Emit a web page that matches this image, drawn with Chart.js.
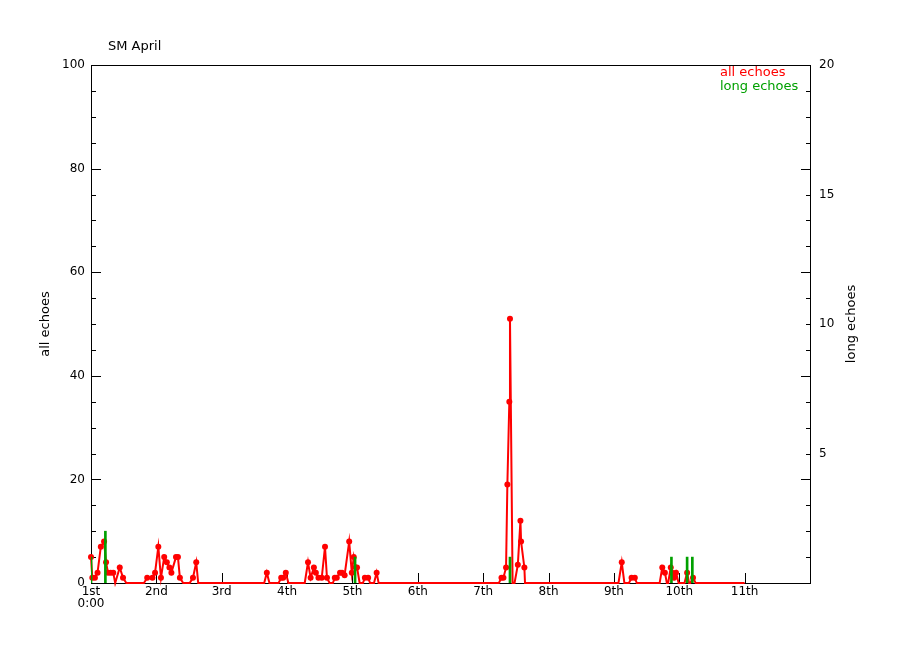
<!DOCTYPE html>
<html>
<head>
<meta charset="utf-8">
<script src="https://cdn.jsdelivr.net/npm/chart.js@4.4.1/dist/chart.umd.min.js"></script>
<style>
  body { margin: 0; background: #fff; }
  #wrap { width: 900px; height: 650px; }
</style>
</head>
<body>
<div id="wrap"><canvas id="myChart" width="900" height="650"></canvas></div>
<script>
// times are in days since the 1st, 0:00
const allTimes = [
  0.00, 0.02, 0.06, 0.10, 0.15, 0.20, 0.23, 0.26, 0.30, 0.34, 0.37, 0.44, 0.49, 0.54,
  0.81, 0.86, 0.94, 0.98, 1.03, 1.07, 1.12, 1.16, 1.20, 1.23, 1.30, 1.33, 1.36, 1.41, 1.51, 1.56, 1.61, 1.64,
  2.65, 2.69, 2.73, 2.87, 2.91, 2.94, 2.98, 3.02, 3.27, 3.32, 3.36, 3.41, 3.44, 3.48, 3.53, 3.58, 3.61, 3.65,
  3.70, 3.73, 3.76, 3.81, 3.84, 3.88, 3.95, 3.99, 4.02, 4.05, 4.07, 4.11, 4.16, 4.19, 4.24, 4.27, 4.33, 4.37, 4.40,
  6.24, 6.28, 6.31, 6.35, 6.37, 6.40, 6.41, 6.45, 6.48, 6.53, 6.57, 6.58, 6.63, 6.64,
  8.07, 8.12, 8.16, 8.23, 8.27, 8.32, 8.35, 8.70, 8.74, 8.78, 8.81, 8.83, 8.87, 8.89, 8.92, 8.95, 8.99,
  9.08, 9.12, 9.15, 9.17, 9.21, 9.25, 10.00
];
const allValues = [
  5, 1, 1, 2, 7, 8, 4, 2, 2, 2, 0, 3, 1, 0,
  0, 1, 1, 2, 7, 1, 5, 4, 3, 2, 5, 5, 1, 0, 0, 1, 4, 0,
  0, 2, 0, 0, 1, 1, 2, 0, 0, 4, 1, 3, 2, 1, 1, 7, 1, 0,
  0, 1, 1, 2, 2, 1.5, 8, 2, 5, 3, 3, 0, 0, 1, 1, 0, 0, 2, 0,
  0, 1, 1, 3, 19, 35, 51, 0, 0, 3.5, 12, 8, 3, 0,
  0, 4, 0, 0, 1, 1, 0, 0, 3, 2, 0, 0, 3, 2, 1, 2, 0,
  0, 2, 0, 0, 1, 0, 0
];
const longTimes = [0.00, 0.22, 4.04, 6.41, 8.88, 9.12, 9.20];
const longValues = [1, 2, 1, 1, 1, 1, 1];
const dayLabels = ['1st', '2nd', '3rd', '4th', '5th', '6th', '7th', '8th', '9th', '10th', '11th'];

const RED = '#ff0000';
const GREEN = '#00a000';
const FONT = '"DejaVu Sans", sans-serif';

const allPoints = allTimes.map((t, i) => ({x: t, y: allValues[i]}));
const longPoints = longTimes.map((t, i) => ({x: t, y: longValues[i]}));

// frame, inward tick marks, titles and legend
const frame = {
  id: 'frame',
  beforeDatasetsDraw(chart) {
    const {ctx, chartArea: a, scales} = chart;
    ctx.save();
    ctx.strokeStyle = '#000';
    ctx.lineWidth = 1;
    ctx.strokeRect(a.left + 0.5, a.top + 0.5, a.right - a.left, a.bottom - a.top);
    ctx.beginPath();
    for (let d = 1; d <= 10; d++) {
      const x = Math.round(scales.x.getPixelForValue(d)) + 0.5;
      ctx.moveTo(x, a.bottom);
      ctx.lineTo(x, a.bottom - 10);
    }
    for (let v = 5; v < 100; v += 5) {
      const y = Math.round(scales.y.getPixelForValue(v)) + 0.5;
      ctx.moveTo(a.left, y);
      ctx.lineTo(a.left + (v % 20 === 0 ? 10 : 5), y);
    }
    for (let v = 1; v < 20; v++) {
      const y = Math.round(scales.y2.getPixelForValue(v)) + 0.5;
      ctx.moveTo(a.right + 1, y);
      ctx.lineTo(a.right + 1 - (v % 4 === 0 ? 10 : 5), y);
    }
    ctx.stroke();
    ctx.restore();
  },
  afterDraw(chart) {
    const {ctx, chartArea: a} = chart;
    const mid = (a.top + a.bottom) / 2;
    ctx.save();
    ctx.font = '13px ' + FONT;
    ctx.textBaseline = 'middle';
    ctx.fillStyle = '#000';
    ctx.textAlign = 'left';
    ctx.fillText('SM April', a.left + 17, 47);

    ctx.textAlign = 'center';
    ctx.save();
    ctx.translate(46, mid);
    ctx.rotate(-Math.PI / 2);
    ctx.fillText('all echoes', 0, 0);
    ctx.restore();
    ctx.save();
    ctx.translate(852, mid);
    ctx.rotate(-Math.PI / 2);
    ctx.fillText('long echoes', 0, 0);
    ctx.restore();

    ctx.textAlign = 'left';
    chart.data.datasets.forEach((ds, i) => {
      ctx.fillStyle = ds.borderColor;
      ctx.fillText(ds.label, 720, 73 + i * 14);
    });
    ctx.restore();
  }
};

new Chart(document.getElementById('myChart'), {
  type: 'line',
  data: {
    datasets: [{
      label: 'all echoes',
      data: allPoints,
      yAxisID: 'y',
      borderColor: RED,
      backgroundColor: RED,
      borderWidth: 2,
      pointRadius: c => (c.raw && c.raw.y > 0 ? 3 : 0),
      pointBorderWidth: 0,
      tension: 0,
      clip: false,
      order: 2
    }, {
      type: 'bar',
      label: 'long echoes',
      data: longPoints,
      yAxisID: 'y2',
      borderColor: GREEN,
      backgroundColor: GREEN,
      barThickness: 2,
      borderWidth: 0,
      order: 1
    }]
  },
  plugins: [frame],
  options: {
    responsive: false,
    animation: false,
    layout: {padding: {top: 65, left: 0, right: 0, bottom: 0}},
    plugins: {legend: {display: false}, tooltip: {enabled: false}},
    scales: {
      x: {
        type: 'linear',
        min: 0,
        max: 11,
        offset: false,
        grid: {display: false, drawTicks: false},
        border: {display: false},
        afterFit: s => { s.height = 67; },
        ticks: {
          stepSize: 1,
          autoSkip: false,
          maxRotation: 0,
          padding: 3,
          color: '#000',
          font: {family: FONT, size: 12, lineHeight: 1.0},
          callback: v => (v === 0 ? ['1st', '0:00'] : (dayLabels[v] || ''))
        }
      },
      y: {
        position: 'left',
        min: 0,
        max: 100,
        grid: {display: false, drawTicks: false},
        border: {display: false},
        afterFit: s => { s.width = 91; },
        ticks: {stepSize: 20, padding: 6, color: '#000', font: {family: FONT, size: 12}}
      },
      y2: {
        position: 'right',
        min: 0,
        max: 20,
        grid: {display: false, drawTicks: false},
        border: {display: false},
        afterFit: s => { s.width = 90; },
        ticks: {
          stepSize: 5,
          padding: 9,
          color: '#000',
          font: {family: FONT, size: 12},
          callback: v => (v === 0 ? '' : v)
        }
      }
    }
  }
});
</script>
</body>
</html>
